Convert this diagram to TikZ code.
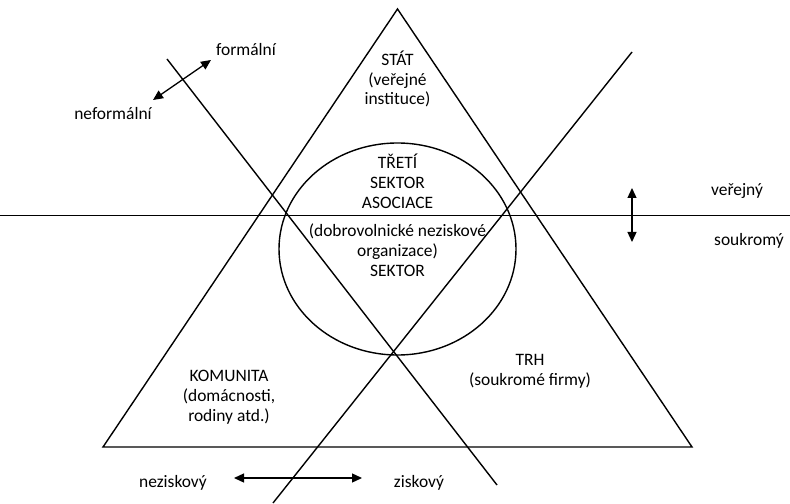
\documentclass[tikz,border=0pt]{standalone}
\usepackage{fontspec}
\setmainfont{Carlito}
\usetikzlibrary{arrows.meta,shapes.geometric}
\tikzset{
  line/.style={black, line width=1.4bp},
  dirarrow/.style={black, line width=1.3bp, {Triangle[length=10bp,width=9bp]}-{Triangle[length=10bp,width=9bp]}},
  lbl/.style={align=center, inner sep=0pt, font=\fontsize{17.5}{20}\selectfont}
}
\begin{document}
\begin{tikzpicture}[x=1bp, y=-1bp]
	\useasboundingbox (0,0) rectangle (790,504);
	% corners of the triangle
	\coordinate (top) at (397.5, 9);
	\coordinate (left) at (103, 447);
	\coordinate (right) at (692, 447);
	\draw[line] (top) -- (left) -- (right) -- cycle;
	% the three cutting lines
	\coordinate (hl) at (0, 215.5);
	\coordinate (hr) at (790, 215.5);
	\draw[line] (hl) -- (hr);
	\coordinate (fa) at (167, 59);
	\coordinate (fb) at (497, 485);
	\draw[line] (fa) -- (fb);
	\coordinate (za) at (273, 503);
	\coordinate (zb) at (632, 52);
	\draw[line] (za) -- (zb);
	% third sector
	\node[draw, line width=1.4bp, ellipse, minimum width=237bp, minimum height=212bp, inner sep=0pt] (sector) at (397.5, 249) {};
	% texts
	\node[lbl] (stat) at (397.5, 79) {STÁT\\(veřejné\\instituce)};
	\node[lbl] (treti) at (397.5, 181) {TŘETÍ\\SEKTOR\\ASOCIACE};
	\node[lbl] (dobro) at (397.5, 250) {(dobrovolnické neziskové\\organizace)\\SEKTOR};
	\node[lbl] (komunita) at (229, 397) {KOMUNITA\\(domácnosti,\\rodiny atd.)};
	\node[lbl] (trh) at (530, 371) {TRH\\(soukromé firmy)};
	\node[lbl] (formal) at (246, 50) {formální};
	\node[lbl] (neformal) at (113, 114) {neformální};
	\node[lbl] (verejny) at (737, 191) {veřejný};
	\node[lbl] (soukromy) at (749, 241) {soukromý};
	\node[lbl] (nezisk) at (173, 483) {neziskový};
	\node[lbl] (zisk) at (419, 483) {ziskový};
	% arrows
	\coordinate (fr1) at (153, 100);
	\coordinate (fr2) at (211, 60);
	\draw[dirarrow] (fr1) -- (fr2);
	\coordinate (vr1) at (632, 188);
	\coordinate (vr2) at (632, 242);
	\draw[dirarrow] (vr1) -- (vr2);
	\coordinate (hr1) at (234, 478);
	\coordinate (hr2) at (362, 478);
	\draw[dirarrow] (hr1) -- (hr2);
\end{tikzpicture}
\end{document}
